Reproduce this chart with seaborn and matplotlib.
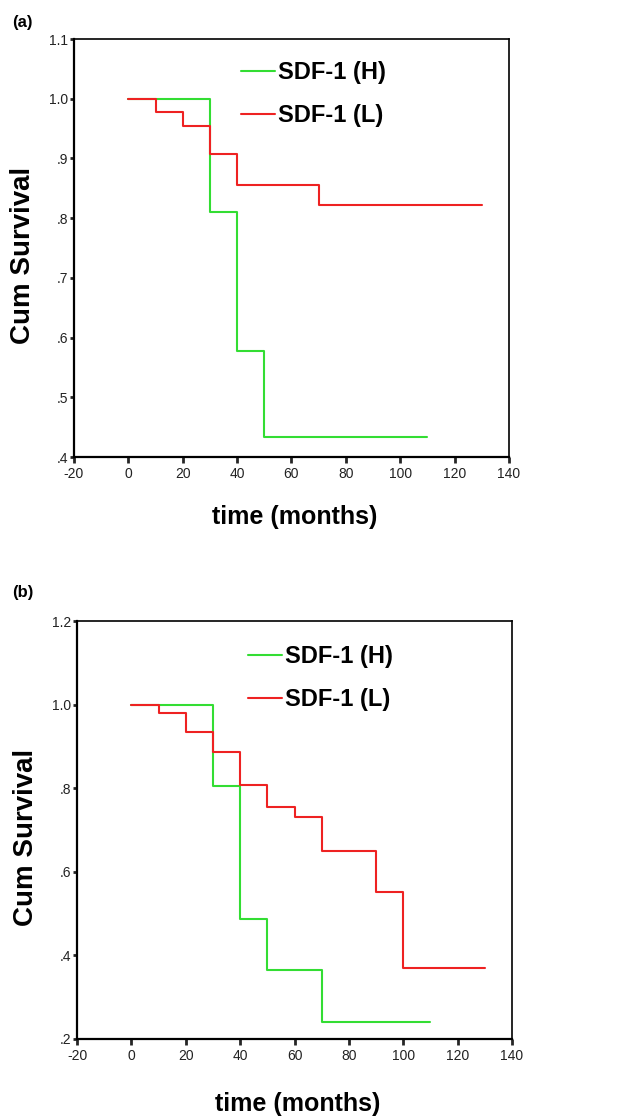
import numpy as np
import pandas as pd
import matplotlib
matplotlib.use("Agg")
import matplotlib.pyplot as plt
import seaborn as sns
from matplotlib.ticker import FuncFormatter

### DATA ###

groups = ['SDF-1 (H)', 'SDF-1 (L)']

# panel (a)
time_a_h = [0, 30, 40, 50, 110]
surv_a_h = [1.0, 0.81, 0.577, 0.433, 0.433]
time_a_l = [0, 10, 20, 30, 40, 70, 130]
surv_a_l = [1.0, 0.977, 0.955, 0.907, 0.855, 0.822, 0.822]

# panel (b)
time_b_h = [0, 30, 40, 50, 70, 110]
surv_b_h = [1.0, 0.806, 0.486, 0.364, 0.240, 0.240]
time_b_l = [0, 10, 20, 30, 40, 50, 60, 70, 90, 100, 130]
surv_b_l = [1.0, 0.981, 0.934, 0.887, 0.807, 0.754, 0.731, 0.651, 0.551, 0.371, 0.371]

x_ticks = [-20, 0, 20, 40, 60, 80, 100, 120, 140]
y_ticks_a = [0.4, 0.5, 0.6, 0.7, 0.8, 0.9, 1.0, 1.1]
y_ticks_b = [0.2, 0.4, 0.6, 0.8, 1.0, 1.2]

palette = {'SDF-1 (H)': '#33dd33', 'SDF-1 (L)': '#ee2222'}


def build_df(th, sh, tl, sl):
    return pd.concat([
        pd.DataFrame({'time': th, 'survival': sh, 'group': groups[0]}),
        pd.DataFrame({'time': tl, 'survival': sl, 'group': groups[1]}),
    ], ignore_index=True)


df_a = build_df(time_a_h, surv_a_h, time_a_l, surv_a_l)
df_b = build_df(time_b_h, surv_b_h, time_b_l, surv_b_l)

### PLOT ###

sns.set_style('white')
plt.rcParams['font.family'] = ['Liberation Sans', 'DejaVu Sans']
plt.rcParams['axes.unicode_minus'] = False
plt.rcParams['text.color'] = 'black'
plt.rcParams['axes.labelcolor'] = 'black'

fig = plt.figure(figsize=(6.18, 11.16), dpi=100)

ax_a = fig.add_axes([0.1197, 0.5905, 0.7039, 0.3745])
ax_b = fig.add_axes([0.1246, 0.0690, 0.7039, 0.3745])


def fmt_y(v, pos):
    s = f"{v:.1f}"
    if v < 1:
        s = s.lstrip('0')
    return s


def style_panel(ax, df, yticks, ylim, legend_xy, tag_xy, xlab_y, tag):
    sns.lineplot(
        data=df, x='time', y='survival', hue='group',
        palette=palette, estimator=None, drawstyle='steps-post',
        linewidth=1.5, legend=False, ax=ax
    )
    ax.set_xlim(-20, 140)
    ax.set_ylim(*ylim)
    ax.set_xticks(x_ticks)
    ax.set_yticks(yticks)
    ax.yaxis.set_major_formatter(FuncFormatter(fmt_y))

    for side in ['left', 'bottom']:
        ax.spines[side].set_linewidth(1.6)
        ax.spines[side].set_color('black')
    for side in ['top', 'right']:
        ax.spines[side].set_linewidth(1.2)
        ax.spines[side].set_color('black')

    ax.tick_params(axis='x', direction='out', length=4.5, width=2,
                   pad=3, labelsize=10, labelcolor='#222222', bottom=True)
    ax.tick_params(axis='y', direction='out', length=3, width=2,
                   pad=1, labelsize=10, labelcolor='#222222', left=True)

    ax.set_xlabel('time (months)', fontsize=18, fontweight='bold')
    ax.set_ylabel('Cum Survival', fontsize=20, fontweight='bold')
    ax.xaxis.set_label_coords(0.508, xlab_y)
    ax.yaxis.set_label_coords(-0.087, 0.483)

    leg = ax.legend(
        handles=ax.lines[:2], labels=groups,
        loc='center left', bbox_to_anchor=legend_xy,
        frameon=False, fontsize=17, handlelength=1.45,
        handletextpad=0.12, labelspacing=0.85, borderpad=0, borderaxespad=0
    )
    for t in leg.get_texts():
        t.set_fontweight('bold')

    ax.text(tag_xy[0], tag_xy[1], tag, transform=ax.transAxes,
            fontsize=12, fontweight='bold', ha='left', va='center')


style_panel(ax_a, df_a, y_ticks_a, (0.4, 1.1), (0.384, 0.869),
            (-0.143, 1.04), -0.115, '(a)')
style_panel(ax_b, df_b, y_ticks_b, (0.2, 1.2), (0.393, 0.864),
            (-0.149, 1.069), -0.127, '(b)')

fig.savefig('out.png', dpi=100)
